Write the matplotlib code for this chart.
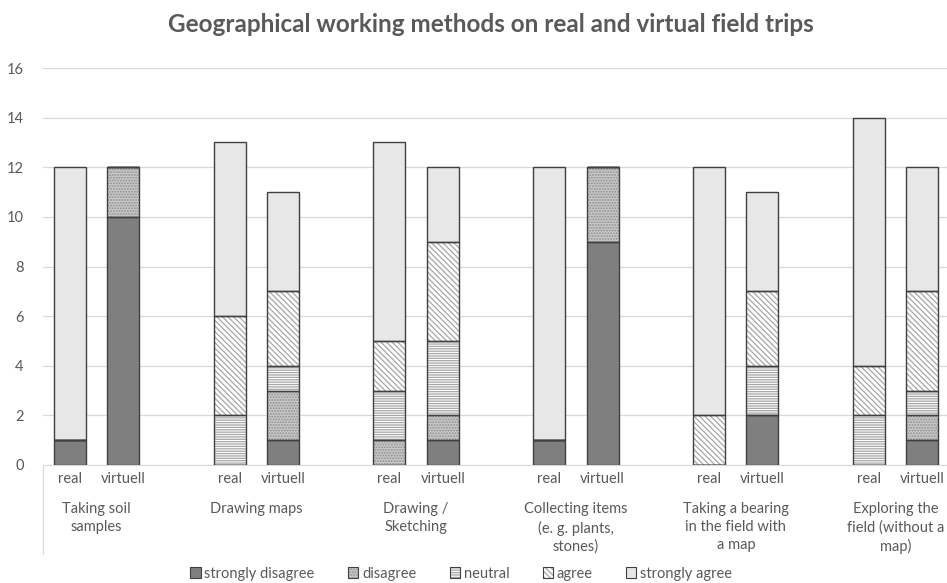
import numpy as np
import matplotlib
matplotlib.use('Agg')
import matplotlib.pyplot as plt
from matplotlib.patches import Patch
from matplotlib.legend_handler import HandlerTuple

plt.rcParams['font.family'] = ['Lato', 'DejaVu Sans']
plt.rcParams['hatch.linewidth'] = 0.9

# data
categories = ['Taking soil\nsamples', 'Drawing maps', 'Drawing /\nSketching',
              'Collecting items\n(e. g. plants,\nstones)', 'Taking a bearing\nin the field with\na map',
              'Exploring the\nfield (without a\nmap)']
bar_labels = ['real', 'virtuell']
levels = ['strongly disagree', 'disagree', 'neutral', 'agree', 'strongly agree']

# one row per bar: real, virtuell, real, virtuell, ...
strongly_disagree = [1, 10, 0, 1, 0, 1, 1, 9, 0, 2, 0, 1]
disagree          = [0, 2, 0, 2, 1, 1, 0, 3, 0, 0, 0, 1]
neutral           = [0, 0, 2, 1, 2, 3, 0, 0, 0, 2, 2, 1]
agree             = [0, 0, 4, 3, 2, 4, 0, 0, 2, 3, 2, 4]
strongly_agree    = [11, 0, 7, 4, 8, 3, 11, 0, 10, 4, 10, 5]

series = [strongly_disagree, disagree, neutral, agree, strongly_agree]
faces = ['#7f7f7f', '#c8c8c8', 'white', 'white', '#e7e7e7']
hatches = [None, '......', '-------', '\\\\\\\\\\\\', None]
hatch_cols = ['#7f7f7f', '#8f8f8f', '#a6a6a6', '#a6a6a6', '#e7e7e7']
edge = '#404040'

fig = plt.figure(figsize=(9.47, 5.83), dpi=100)
ax = fig.add_axes((43/947, 118/583, 906/947, 397/583))

pos = []
for g in range(len(categories)):
    pos += [3*g, 3*g + 1]
pos = np.array(pos)
w = 0.6

bottom = np.zeros(len(pos))
for vals, fc, h, hc in zip(series, faces, hatches, hatch_cols):
    vals = np.array(vals, dtype=float)
    ax.bar(pos, vals, w, bottom=bottom, color=fc, hatch=h, edgecolor=hc, linewidth=0, zorder=2)
    ax.bar(pos, vals, w, bottom=bottom, fill=False, edgecolor=edge, linewidth=1.0, zorder=3)
    bottom += vals

ax.set_xlim(-0.5, 16.5)
ax.set_ylim(0, 16)
ax.set_yticks(np.arange(0, 17, 2))
ax.yaxis.grid(True, color='#d9d9d9', linewidth=0.9, zorder=0)
ax.set_axisbelow(True)
for s in ['top', 'right', 'left']:
    ax.spines[s].set_visible(False)
ax.spines['bottom'].set_color('#d9d9d9')
ax.tick_params(axis='y', length=0, labelsize=10.5, labelcolor='#595959', pad=14)
ax.set_xticks(pos)
ax.set_xticklabels(bar_labels * len(categories))
ax.tick_params(axis='x', length=0, labelsize=10.5, labelcolor='#595959', pad=5)

for g, cat in enumerate(categories):
    ax.text(3*g + 0.5, -1.5, cat, ha='center', va='top', fontsize=10.5,
            color='#595959', linespacing=1.35)

ax.plot([-0.5, -0.5], [0, -3.6], color='#d9d9d9', linewidth=0.9, clip_on=False)

fig.text(0.518, 1 - 25/583, 'Geographical working methods on real and virtual field trips',
         ha='center', va='center', fontsize=17.5, fontweight='bold', color='#595959')

handles = []
for fc, h, hc in zip(faces, hatches, hatch_cols):
    inner = Patch(facecolor=fc, hatch=h, edgecolor=hc, linewidth=0)
    outer = Patch(fill=False, edgecolor=edge, linewidth=0.8)
    handles.append((inner, outer))
fig.legend(handles, levels, loc='center', bbox_to_anchor=(0.487, 0.016), ncol=5,
           frameon=False, fontsize=10.5, handlelength=0.7, handleheight=0.7,
           handletextpad=0.25, columnspacing=2.3, labelcolor='#595959',
           handler_map={tuple: HandlerTuple(ndivide=1, pad=0)})

fig.savefig('out.png', dpi=100)
